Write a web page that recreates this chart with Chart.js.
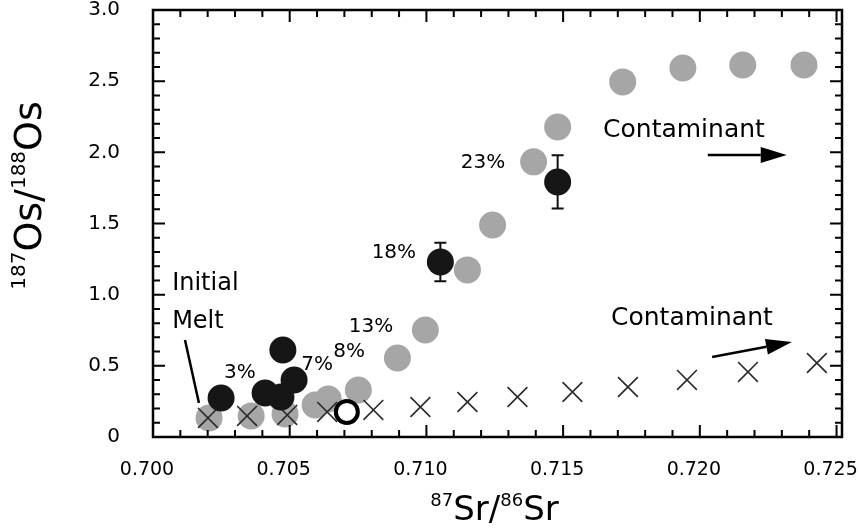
<!DOCTYPE html>
<html>
<head>
<meta charset="utf-8">
<script src="https://cdn.jsdelivr.net/npm/chart.js@4"></script>
<style>
  html, body { margin: 0; padding: 0; background: #fff; }
  canvas { display: block; }
</style>
</head>
<body>
<canvas id="osChart" width="859" height="529"></canvas>
<script>
// mixing curve 1 (stippled grey dots)
const grayX = [0.70205, 0.70359, 0.70483, 0.70593, 0.70641, 0.70751, 0.70894, 0.70996,
               0.71150, 0.71242, 0.71392, 0.71480, 0.71718, 0.71938, 0.72157, 0.72381];
const grayY = [0.134, 0.148, 0.162, 0.225, 0.267, 0.330, 0.555, 0.752,
               1.174, 1.490, 1.933, 2.178, 2.495, 2.593, 2.614, 2.614];

// mixing curve 2 (crosses)
const crossX = [0.70201, 0.70344, 0.70491, 0.70637, 0.70806, 0.70978, 0.71150,
                0.71333, 0.71534, 0.71737, 0.71953, 0.72176, 0.72428];
const crossY = [0.134, 0.148, 0.155, 0.176, 0.190, 0.211, 0.246,
                0.281, 0.316, 0.351, 0.401, 0.457, 0.520];

// measured samples (black dots) with 2 sigma bars
const blackX = [0.70249, 0.70410, 0.70468, 0.70475, 0.70516, 0.71051, 0.71480];
const blackY = [0.274, 0.309, 0.281, 0.611, 0.401, 1.230, 1.792];
const blackErr = [0, 0, 0, 0, 0, 0.135, 0.187];

// open circle
const openX = [0.70709];
const openY = [0.176];

// axis ticks
const xMajor = [0.700, 0.705, 0.710, 0.715, 0.720, 0.725];
const xTickLabels = ['0.700', '0.705', '0.710', '0.715', '0.720', '0.725'];
const yMajor = [0, 0.5, 1.0, 1.5, 2.0, 2.5, 3.0];
const yTickLabels = ['0', '0.5', '1.0', '1.5', '2.0', '2.5', '3.0'];

// text notes in data units
const notes = [
  { text: 'Initial', x: 0.70070, y: 1.033, align: 'left', size: 24 },
  { text: 'Melt', x: 0.70070, y: 0.766, align: 'left', size: 24 },
  { text: '3%', x: 0.70318, y: 0.415, align: 'center', size: 20 },
  { text: '7%', x: 0.70600, y: 0.471, align: 'center', size: 20 },
  { text: '8%', x: 0.70717, y: 0.562, align: 'center', size: 20 },
  { text: '13%', x: 0.70797, y: 0.738, align: 'center', size: 20 },
  { text: '18%', x: 0.70881, y: 1.258, align: 'center', size: 20 },
  { text: '23%', x: 0.71207, y: 1.890, align: 'center', size: 20 },
  { text: 'Contaminant', x: 0.71942, y: 2.108, align: 'center', size: 25 },
  { text: 'Contaminant', x: 0.71971, y: 0.787, align: 'center', size: 25 }
];

// lines: [x0, y0, x1, y1, arrowhead]
const pointers = [
  [0.70117, 0.682, 0.70168, 0.239, false],
  [0.72029, 1.982, 0.72318, 1.982, true],
  [0.72045, 0.562, 0.72337, 0.668, true]
];

const FONT = '"DejaVu Sans", Verdana, sans-serif';

function toXY(xs, ys) {
  return xs.map((x, i) => ({ x: x, y: ys[i] }));
}

function pickLabel(v, majors, labels) {
  for (let i = 0; i < majors.length; i++) {
    if (Math.abs(v - majors[i]) < 1e-7) return labels[i];
  }
  return '';
}

function noPad(s) {
  s.paddingLeft = 0; s.paddingRight = 0; s.paddingTop = 0; s.paddingBottom = 0;
}

function drawParts(ctx, parts, big, small) {
  let w = 0;
  parts.forEach(p => {
    ctx.font = (p.sup ? small : big) + 'px ' + FONT;
    w += ctx.measureText(p.t).width;
  });
  let x = -w / 2;
  parts.forEach(p => {
    ctx.font = (p.sup ? small : big) + 'px ' + FONT;
    ctx.fillText(p.t, x, p.sup ? -big * 0.42 : 0);
    x += ctx.measureText(p.t).width;
  });
}

const errorBars = {
  id: 'errorBars',
  beforeDatasetsDraw(chart) {
    const ctx = chart.ctx;
    const xs = chart.scales.x, ys = chart.scales.y;
    ctx.save();
    ctx.strokeStyle = '#111';
    ctx.lineWidth = 2;
    blackErr.forEach((e, i) => {
      if (!e) return;
      const px = xs.getPixelForValue(blackX[i]);
      const top = ys.getPixelForValue(blackY[i] + e);
      const bot = ys.getPixelForValue(blackY[i] - e);
      ctx.beginPath();
      ctx.moveTo(px, top); ctx.lineTo(px, bot);
      ctx.moveTo(px - 6, top); ctx.lineTo(px + 6, top);
      ctx.moveTo(px - 6, bot); ctx.lineTo(px + 6, bot);
      ctx.stroke();
    });
    ctx.restore();
  }
};

const frame = {
  id: 'frame',
  afterDraw(chart) {
    const ctx = chart.ctx;
    const a = chart.chartArea;
    const xs = chart.scales.x, ys = chart.scales.y;
    ctx.save();
    ctx.strokeStyle = '#000';

    // inward ticks on all four sides
    ctx.lineWidth = 2;
    ctx.beginPath();
    xs.ticks.forEach(t => {
      const px = xs.getPixelForValue(t.value);
      const len = pickLabel(t.value, xMajor, xTickLabels) ? 12 : 7;
      ctx.moveTo(px, a.bottom); ctx.lineTo(px, a.bottom - len);
      ctx.moveTo(px, a.top); ctx.lineTo(px, a.top + len);
    });
    ys.ticks.forEach(t => {
      const py = ys.getPixelForValue(t.value);
      const len = pickLabel(t.value, yMajor, yTickLabels) ? 12 : 7;
      ctx.moveTo(a.left, py); ctx.lineTo(a.left + len, py);
      ctx.moveTo(a.right, py); ctx.lineTo(a.right - len, py);
    });
    ctx.stroke();

    ctx.lineWidth = 2.5;
    ctx.strokeRect(a.left, a.top, a.right - a.left, a.bottom - a.top);

    // pointer lines and arrows
    ctx.fillStyle = '#000';
    pointers.forEach(p => {
      const x0 = xs.getPixelForValue(p[0]), y0 = ys.getPixelForValue(p[1]);
      const x1 = xs.getPixelForValue(p[2]), y1 = ys.getPixelForValue(p[3]);
      const ang = Math.atan2(y1 - y0, x1 - x0);
      const head = p[4] ? 26 : 0;
      ctx.lineWidth = 2.5;
      ctx.beginPath();
      ctx.moveTo(x0, y0);
      ctx.lineTo(x1 - head * Math.cos(ang), y1 - head * Math.sin(ang));
      ctx.stroke();
      if (p[4]) {
        ctx.beginPath();
        ctx.moveTo(x1, y1);
        ctx.lineTo(x1 - head * Math.cos(ang) + 8 * Math.sin(ang), y1 - head * Math.sin(ang) - 8 * Math.cos(ang));
        ctx.lineTo(x1 - head * Math.cos(ang) - 8 * Math.sin(ang), y1 - head * Math.sin(ang) + 8 * Math.cos(ang));
        ctx.closePath();
        ctx.fill();
      }
    });

    // text notes
    ctx.textBaseline = 'alphabetic';
    notes.forEach(n => {
      ctx.font = n.size + 'px ' + FONT;
      ctx.textAlign = n.align;
      ctx.fillText(n.text, xs.getPixelForValue(n.x), ys.getPixelForValue(n.y));
    });

    // axis titles with superscript mass numbers
    ctx.textAlign = 'left';
    ctx.save();
    ctx.translate((a.left + a.right) / 2 - 3, 520);
    drawParts(ctx, [{ t: '87', sup: true }, { t: 'Sr/' }, { t: '86', sup: true }, { t: 'Sr' }], 34, 18);
    ctx.restore();

    ctx.save();
    ctx.translate(41, (a.top + a.bottom) / 2 - 28);
    ctx.rotate(-Math.PI / 2);
    drawParts(ctx, [{ t: '187', sup: true }, { t: 'Os/' }, { t: '188', sup: true }, { t: 'Os' }], 38, 20);
    ctx.restore();

    ctx.restore();
  }
};

const ctx = document.getElementById('osChart').getContext('2d');
const osChart = new Chart(ctx, {
  type: 'scatter',
  data: {
    datasets: [
      {
        label: 'open',
        data: toXY(openX, openY),
        pointStyle: 'circle',
        pointRadius: 11,
        backgroundColor: '#fff',
        borderColor: '#000',
        borderWidth: 4,
        order: 0
      },
      {
        label: 'samples',
        data: toXY(blackX, blackY),
        pointStyle: 'circle',
        pointRadius: 13.5,
        backgroundColor: '#161616',
        borderWidth: 0,
        order: 1
      },
      {
        label: 'model 2',
        data: toXY(crossX, crossY),
        pointStyle: 'crossRot',
        pointRadius: 14,
        borderColor: '#2a2a2a',
        borderWidth: 1.6,
        order: 2
      },
      {
        label: 'model 1',
        data: toXY(grayX, grayY),
        pointStyle: 'circle',
        pointRadius: 13.5,
        backgroundColor: '#a6a6a6',
        borderWidth: 0,
        order: 3
      }
    ]
  },
  options: {
    responsive: false,
    animation: false,
    events: [],
    layout: { autoPadding: false, padding: { top: 10, right: 17, left: 0, bottom: 0 } },
    plugins: {
      legend: { display: false },
      tooltip: { enabled: false }
    },
    scales: {
      x: {
        type: 'linear',
        min: 0.700,
        max: 0.7252,
        grid: { display: false, drawTicks: false },
        border: { display: false },
        ticks: {
          stepSize: 0.001,
          includeBounds: false,
          autoSkip: false,
          maxRotation: 0,
          padding: 22,
          labelOffset: -6,
          color: '#000',
          font: { family: FONT, size: 19 },
          callback: v => pickLabel(v, xMajor, xTickLabels)
        },
        afterFit: s => { s.height = 92; noPad(s); }
      },
      y: {
        type: 'linear',
        min: 0,
        max: 3.0,
        grid: { display: false, drawTicks: false },
        border: { display: false },
        ticks: {
          stepSize: 0.1,
          autoSkip: false,
          padding: 33,
          color: '#000',
          font: { family: FONT, size: 20 },
          callback: v => pickLabel(v, yMajor, yTickLabels)
        },
        afterFit: s => { s.width = 153; noPad(s); }
      }
    }
  },
  plugins: [errorBars, frame]
});
</script>
</body>
</html>
